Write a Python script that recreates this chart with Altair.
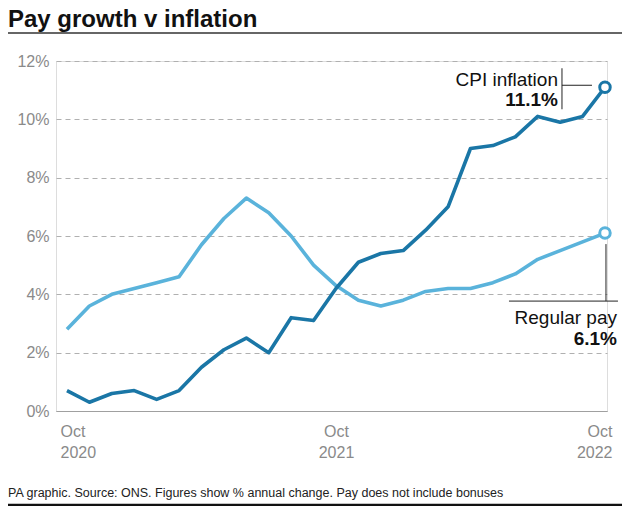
import altair as alt
import pandas as pd

FONT = "Liberation Sans"

months = list(range(25))
cpi = [0.7, 0.3, 0.6, 0.7, 0.4, 0.7, 1.5, 2.1, 2.5, 2.0, 3.2, 3.1, 4.2,
       5.1, 5.4, 5.5, 6.2, 7.0, 9.0, 9.1, 9.4, 10.1, 9.9, 10.1, 11.1]
pay = [2.8, 3.6, 4.0, 4.2, 4.4, 4.6, 5.7, 6.6, 7.3, 6.8, 6.0, 5.0, 4.3,
       3.8, 3.6, 3.8, 4.1, 4.2, 4.2, 4.4, 4.7, 5.2, 5.5, 5.8, 6.1]

x_ticks = [0, 12, 24]
x_tick_labels = [["Oct", "2020"], ["Oct", "2021"], ["Oct", "2022"]]
y_ticks = [0, 2, 4, 6, 8, 10, 12]

title_text = "Pay growth v inflation"
footer_text = "PA graphic. Source: ONS. Figures show % annual change. Pay does not include bonuses"

DARK = "#1a76a6"
LIGHT = "#5ab3db"

cpi_df = pd.DataFrame({"month": months, "value": cpi})
pay_df = pd.DataFrame({"month": months, "value": pay})
cpi_end = cpi_df.tail(1)
pay_end = pay_df.tail(1)
one = pd.DataFrame({"k": [0]})

label_expr = " : ".join(
    [f"datum.value == {v} ? ['{a}', '{b}']" for v, (a, b) in zip(x_ticks[:-1], x_tick_labels[:-1])]
) + f" : ['{x_tick_labels[-1][0]}', '{x_tick_labels[-1][1]}']"

xscale = alt.Scale(domain=[-0.49, 24.09], nice=False, zero=False)
yscale = alt.Scale(domain=[0, 12], nice=False)

xaxis = alt.Axis(values=x_ticks, labelExpr=label_expr, grid=False, ticks=False,
                 domain=True, domainColor="#a0a0a0", domainWidth=1,
                 labelColor="#8a8a8a", labelFont=FONT, labelFontSize=16,
                 labelPadding=12, labelLineHeight=21, labelBaseline="top",
                 labelFlush=12, labelFlushOffset=7, title=None)
yaxis = alt.Axis(values=y_ticks, labelExpr="datum.value + '%'", grid=True,
                 gridDash=[5, 4], gridColor="#b0b0b0", gridWidth=1,
                 ticks=False, domain=False, labelColor="#8a8a8a", labelFont=FONT,
                 labelFontSize=16, labelPadding=7, title=None)

X = alt.X("month:Q", scale=xscale, axis=xaxis)
Y = alt.Y("value:Q", scale=yscale, axis=yaxis)

pay_line = alt.Chart(pay_df).mark_line(color=LIGHT, strokeWidth=3.6, strokeJoin="round").encode(x=X, y=Y)
cpi_line = alt.Chart(cpi_df).mark_line(color=DARK, strokeWidth=3.6, strokeJoin="round").encode(x="month:Q", y="value:Q")

pay_dot = alt.Chart(pay_end).mark_point(shape="circle", filled=True, fill="white", stroke=LIGHT,
                                        strokeWidth=3, size=110, opacity=1).encode(x="month:Q", y="value:Q")
cpi_dot = alt.Chart(cpi_end).mark_point(shape="circle", filled=True, fill="white", stroke=DARK,
                                        strokeWidth=3, size=110, opacity=1).encode(x="month:Q", y="value:Q")

LEAD = "#222222"
cpi_v = alt.Chart(cpi_end).mark_rule(color=LEAD, strokeWidth=1, xOffset=-43, yOffset=-19, y2Offset=22).encode(
    x="month:Q", y="value:Q", y2=alt.Y2("value:Q"))
cpi_h = alt.Chart(cpi_end).mark_rule(color=LEAD, strokeWidth=1, xOffset=-43, x2Offset=-13, yOffset=-2).encode(
    x="month:Q", x2=alt.X2("month:Q"), y="value:Q")
pay_v = alt.Chart(pay_end).mark_rule(color=LEAD, strokeWidth=1, xOffset=1, yOffset=11, y2Offset=68).encode(
    x="month:Q", y="value:Q", y2=alt.Y2("value:Q"))
pay_h = alt.Chart(pay_end).mark_rule(color=LEAD, strokeWidth=1, xOffset=-96, x2Offset=13, yOffset=68).encode(
    x="month:Q", x2=alt.X2("month:Q"), y="value:Q")

cpi_name = alt.Chart(cpi_end).mark_text(text="CPI inflation", align="right", baseline="alphabetic",
                                        dx=-47, dy=-1, font=FONT, fontSize=19, color="#111").encode(
    x="month:Q", y="value:Q")
pay_name = alt.Chart(pay_end).mark_text(text="Regular pay", align="right", baseline="alphabetic",
                                        dx=12, dy=91, font=FONT, fontSize=19, color="#111").encode(
    x="month:Q", y="value:Q")
cpi_val = alt.Chart(cpi_end).transform_calculate(lab="format(datum.value, '.1f') + '%'").mark_text(
    align="right", baseline="alphabetic", dx=-47, dy=19, font=FONT, fontSize=19,
    fontWeight="bold", color="#111").encode(x="month:Q", y="value:Q", text="lab:N")
pay_val = alt.Chart(pay_end).transform_calculate(lab="format(datum.value, '.1f') + '%'").mark_text(
    align="right", baseline="alphabetic", dx=12, dy=112, font=FONT, fontSize=19,
    fontWeight="bold", color="#111").encode(x="month:Q", y="value:Q", text="lab:N")

title = alt.Chart(one).mark_text(text=title_text, align="left", baseline="alphabetic", font=FONT,
                                 fontSize=24, fontWeight="bold", color="#111").encode(
    x=alt.value(-48), y=alt.value(-34))
title_rule = alt.Chart(one).mark_rule(color="#333", strokeWidth=1.5).encode(
    x=alt.value(-48), x2=alt.value(566), y=alt.value(-28))
footer = alt.Chart(one).mark_text(text=footer_text, align="left", baseline="alphabetic", font=FONT,
                                  fontSize=12.5, color="#222").encode(
    x=alt.value(-48), y=alt.value(436))
footer_rule = alt.Chart(one).mark_rule(color="#111", strokeWidth=2.5).encode(
    x=alt.value(-48), x2=alt.value(566), y=alt.value(444))

chart = alt.layer(
    pay_line, cpi_line, cpi_v, cpi_h, pay_v, pay_h, pay_dot, cpi_dot,
    cpi_name, cpi_val, pay_name, pay_val, title, title_rule, footer, footer_rule
).properties(
    width=551, height=350,
    autosize=alt.AutoSizeParams(type="none"),
    padding={"left": 48, "top": 53, "right": 15, "bottom": 95},
).configure_view(stroke=None).configure(background="white")

chart.save("out.html", embed_options={"renderer": "svg", "actions": False})
